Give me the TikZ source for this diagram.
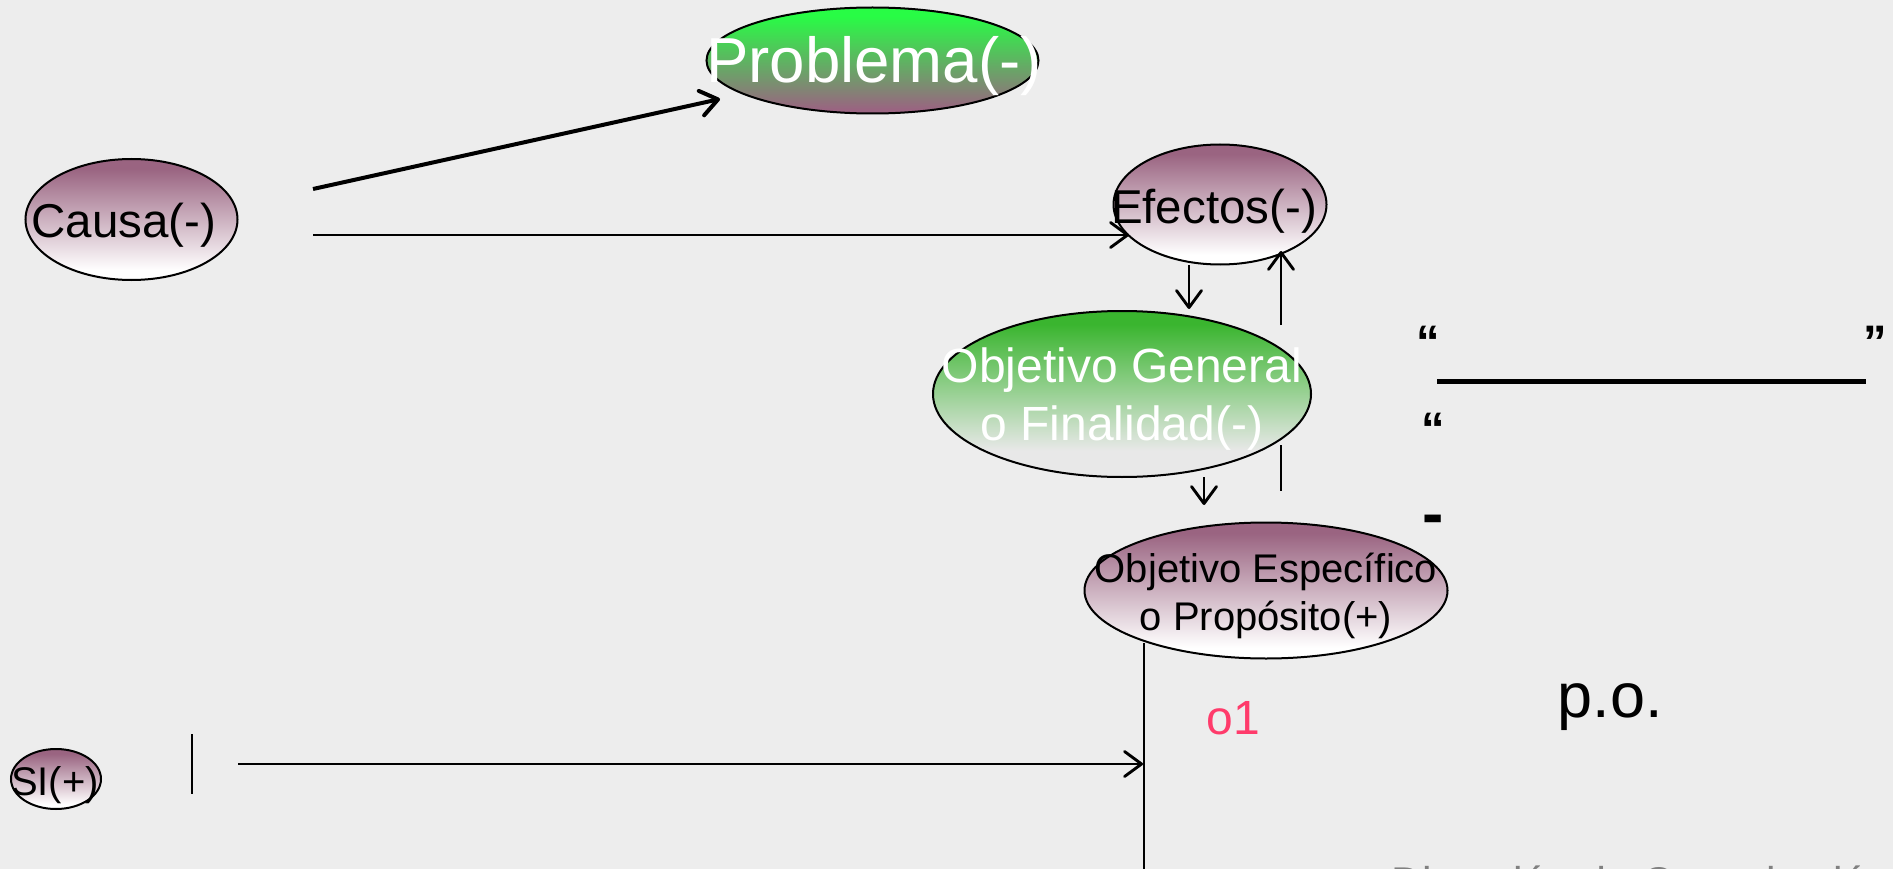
\documentclass[tikz,border=0pt]{standalone}
\usepackage{fontspec}
\setmainfont{Liberation Sans}
\usetikzlibrary{shapes.geometric,arrows.meta}
\definecolor{bgc}{HTML}{EDEDED}
\definecolor{pp}{HTML}{9A6481}
\definecolor{brightg}{HTML}{28FC45}
\definecolor{darkg}{HTML}{3AB52F}
\definecolor{paleg}{HTML}{E8E8E8}
\definecolor{pinkc}{HTML}{FF3B6B}
\definecolor{grayc}{HTML}{808080}
\pgfdeclareverticalshading{purpwhite}{100bp}{color(0bp)=(white); color(29bp)=(white); color(71bp)=(pp); color(100bp)=(pp)}
\pgfdeclareverticalshading{greenpurp}{100bp}{color(0bp)=(pp); color(27bp)=(pp); color(71bp)=(brightg); color(100bp)=(brightg)}
\pgfdeclareverticalshading{greenpale}{100bp}{color(0bp)=(paleg); color(33bp)=(paleg); color(71bp)=(darkg); color(100bp)=(darkg)}
\tikzset{
  ell/.style={ellipse,draw=black,line width=2pt,inner sep=0pt,outer sep=0pt,minimum width=#1},
  lbl/.style={inner sep=0pt,align=center,font=\fontsize{47.5}{58}\selectfont},
  conn/.style={draw=black,line width=2.9pt,-{Straight Barb[length=17pt,width=25pt,round]}},
  plainline/.style={draw=black,line width=2.6pt},
}
\begin{document}
\begin{tikzpicture}[x=1pt,y=-1pt]
\useasboundingbox (0,0) rectangle (1893,869);
\clip (0,0) rectangle (1893,869);
\fill[bgc] (0,0) rectangle (1893,869);
% ellipses
\node[ell=332pt,minimum height=106pt,shading=greenpurp] (problema) at (872.5,60.5) {};
\node[ell=212pt,minimum height=121pt,shading=purpwhite] (causa) at (131.5,219.5) {};
\node[ell=213pt,minimum height=120pt,shading=purpwhite] (efectos) at (1220,204.5) {};
\node[ell=378pt,minimum height=166pt,shading=greenpale] (general) at (1122,394) {};
\node[ell=363pt,minimum height=136pt,shading=purpwhite] (especifico) at (1266,590.5) {};
\node[ell=90pt,minimum height=60pt,shading=purpwhite] (si) at (56,779) {};
% labels
\node[lbl,text=white,font=\fontsize{63.6}{70}\selectfont] (tproblema) at (874,66) {Problema(-)};
\node[lbl] (tcausa) at (124,225) {Causa(-)};
\node[lbl] (tefectos) at (1214,211) {Efectos(-)};
\node[lbl,text=white,font=\fontsize{48}{58}\selectfont] (tgeneral) at (1122,399) {Objetivo General\\o Finalidad(-)};
\node[lbl,font=\fontsize{40}{48}\selectfont] (tespecifico) at (1266,596) {Objetivo Específico\\o Propósito(+)};
\node[lbl,font=\fontsize{40}{45}\selectfont] (tsi) at (55,785) {SI(+)};
\node[lbl,text=pinkc,font=\fontsize{48}{56}\selectfont] (to) at (1233,718) {o1};
\node[lbl,font=\fontsize{63}{70}\selectfont] (tpo) at (1610,707) {p.o.};
\node[lbl,font=\bfseries\fontsize{47}{56}\selectfont] (q1) at (1428,342) {“};
\node[lbl,font=\bfseries\fontsize{47}{56}\selectfont] (q2) at (1875,342) {”};
\node[lbl,font=\bfseries\fontsize{47}{56}\selectfont] (q3) at (1433,429) {“};
\node[lbl,font=\bfseries\fontsize{64}{70}\selectfont] (q4) at (1433,525) {-};
\node[lbl,text=grayc,font=\fontsize{43}{48}\selectfont,anchor=base west] (foot) at (1391,897) {Dirección de Capacitación};
% free ends
\coordinate (a1) at (313,189);
\coordinate (a2) at (720,99);
\coordinate (b1) at (313,235);
\coordinate (b2) at (1129,235);
\coordinate (c1) at (1189,265);
\coordinate (c2) at (1189,309);
\coordinate (d1) at (1281,325);
\coordinate (d2) at (1281,251);
\coordinate (e1) at (1281,445);
\coordinate (e2) at (1281,491);
\coordinate (f1) at (1204,477);
\coordinate (f2) at (1204,505);
\coordinate (g1) at (1144,643);
\coordinate (g2) at (1144,869);
\coordinate (h1) at (192,734);
\coordinate (h2) at (192,794);
\coordinate (i1) at (238,764);
\coordinate (i2) at (1143,764);
\coordinate (j1) at (1437,381.5);
\coordinate (j2) at (1866,381.5);
% connectors
\draw[conn,line width=4pt] (a1) -- (a2);
\draw[conn] (b1) -- (b2);
\draw[conn] (c1) -- (c2);
\draw[conn] (d1) -- (d2);
\draw[plainline] (e1) -- (e2);
\draw[conn] (f1) -- (f2);
\draw[plainline] (g1) -- (g2);
\draw[plainline] (h1) -- (h2);
\draw[conn] (i1) -- (i2);
\draw[draw=black,line width=5pt] (j1) -- (j2);
\end{tikzpicture}
\end{document}
